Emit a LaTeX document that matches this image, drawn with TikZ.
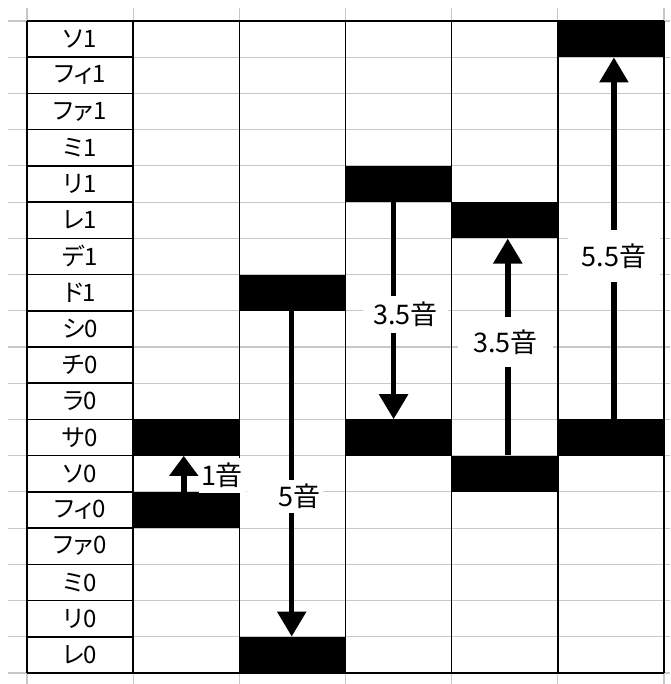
\documentclass[tikz,border=0pt]{standalone}
\usepackage{fontspec}
\newfontfamily\jp[RawFeature=+palt]{Noto Sans CJK JP}
\newfontfamily\jpl{Noto Sans CJK JP}
\usetikzlibrary{arrows.meta}
\definecolor{gridgray}{RGB}{200,200,200}
\tikzset{
  gridline/.style={draw=gridgray, line width=1.2pt},
  tableline/.style={draw=black, line width=1.6pt},
  rowlabel/.style={inner sep=0pt, font=\jp\fontsize{24}{24}\selectfont},
  bar/.style={fill=black, inner sep=0pt, minimum width=106.17pt, minimum height=36.22pt},
  arr/.style={line width=5.5pt, -{Triangle[width=28pt,length=25pt]}},
  arrshort/.style={line width=5.5pt, -{Triangle[width=28pt,length=20pt]}},
  steplabel/.style={fill=white, inner sep=0pt, font=\jpl\fontsize{27}{27}\selectfont}
}
\begin{document}
\begin{tikzpicture}[x=1pt,y=-1pt]
\useasboundingbox (0,0) rectangle (670,684);
\fill[white] (0,0) rectangle (670,684);
% gray spreadsheet grid
\foreach \k in {0,...,18}
  \draw[gridline] (8,{21+36.222*\k}) -- (670,{21+36.222*\k});
\foreach \k in {0,...,6}
  \draw[gridline] ({27+106.1667*\k},8) -- ({27+106.1667*\k},684);
% black table lines
\foreach \k in {1,...,17}
  \draw[tableline] (27,{21+36.222*\k}) -- (133.17,{21+36.222*\k});
\foreach \k in {0,...,6}
  \draw[tableline] ({27+106.1667*\k},21) -- ({27+106.1667*\k},673);
\draw[tableline] (27,21) -- (664,21);
\draw[tableline] (27,673) -- (664,673);
% row labels
\foreach \t [count=\i] in {ソ1,フィ1,ファ1,ミ1,リ1,レ1,デ1,ド1,シ0,チ0,ラ0,サ0,ソ0,フィ0,ファ0,ミ0,リ0,レ0}
  \node[rowlabel] (l\i) at (80.08,{21+36.222*(\i-0.5)}) {\t};
% bars
\node[bar] (s2a) at ({27+106.1667*1.5},{21+36.222*11.5}) {};
\node[bar] (s2b) at ({27+106.1667*1.5},{21+36.222*13.5}) {};
\node[bar] (s3a) at ({27+106.1667*2.5},{21+36.222*7.5}) {};
\node[bar] (s3b) at ({27+106.1667*2.5},{21+36.222*17.5}) {};
\node[bar] (s4a) at ({27+106.1667*3.5},{21+36.222*4.5}) {};
\node[bar] (s4b) at ({27+106.1667*3.5},{21+36.222*11.5}) {};
\node[bar] (s5a) at ({27+106.1667*4.5},{21+36.222*5.5}) {};
\node[bar] (s5b) at ({27+106.1667*4.5},{21+36.222*12.5}) {};
\node[bar] (s6a) at ({27+106.1667*5.5},{21+36.222*0.5}) {};
\node[bar] (s6b) at ({27+106.1667*5.5},{21+36.222*11.5}) {};
% arrows
\draw[arrshort] ([xshift=-2.5pt]s2b.north) -- ([xshift=-2.5pt]s2a.south);
\draw[arr] ([xshift=-0.7pt]s3a.south) -- ([xshift=-0.7pt]s3b.north);
\draw[arr] ([xshift=-5pt]s4a.south) -- ([xshift=-5pt]s4b.north);
\draw[arr] ([xshift=3pt]s5b.north) -- ([xshift=3pt]s5a.south);
\draw[arr] ([xshift=3pt]s6b.north) -- ([xshift=3pt]s6a.south);
% step labels
\node[steplabel, minimum width=47pt, minimum height=35pt] (t2) at (222,475) {1音};
\node[steplabel, text width=70pt, inner xsep=3pt, align=right, minimum height=33pt] (t3) at (285,496.5) {5音};
\node[steplabel, minimum width=85pt, minimum height=37pt] (t4) at (405.5,314.5) {3.5音};
\node[steplabel, minimum width=95pt, minimum height=50pt] (t5) at (505.5,342) {3.5音};
\node[steplabel, minimum width=92pt, minimum height=52pt] (t6) at (614,256) {5.5音};
\end{tikzpicture}
\end{document}
